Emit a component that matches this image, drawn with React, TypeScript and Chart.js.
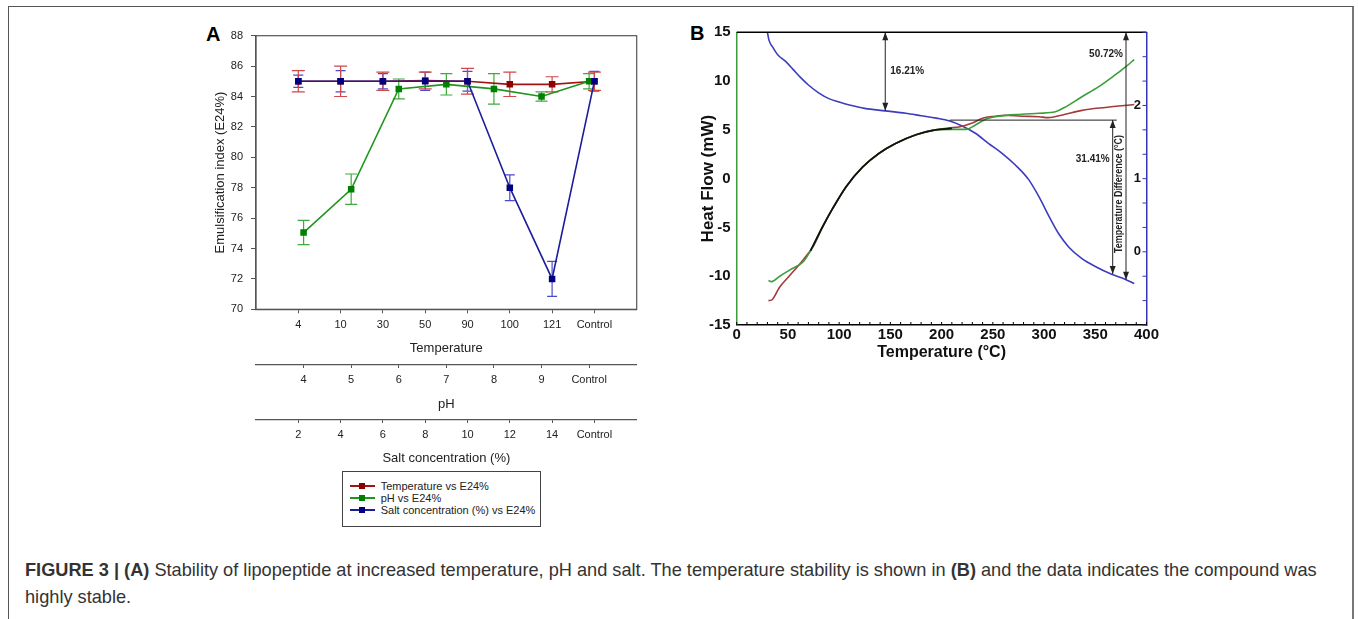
import React, { useEffect, useRef } from 'react';
import { Chart, registerables } from 'chart.js';

Chart.register(...registerables);
Chart.defaults.font.family = '"Liberation Sans", Arial, sans-serif';

// ---------- Panel A data ----------
const tempLabels = ['4', '10', '30', '50', '90', '100', '121', 'Control'];
const phLabels = ['4', '5', '6', '7', '8', '9', 'Control'];
const saltLabels = ['2', '4', '6', '8', '10', '12', '14', 'Control'];
const tempE24 = [85, 85, 85, 85.05, 85, 84.8, 84.8, 85];
const tempErr = [0.7, 1.0, 0.6, 0.55, 0.85, 0.8, 0.5, 0.6];
const phE24 = [75.05, 77.9, 84.5, 84.8, 84.5, 84.0, 85.0];
const phErr = [0.8, 1.0, 0.65, 0.7, 1.0, 0.3, 0.5];
const saltE24 = [85, 85, 85, 85, 85, 78, 72, 85];
const saltErr = [0.4, 0.7, 0.5, 0.6, 0.65, 0.85, 1.15, 0.65];
const yTicksA = { min: 70, max: 88, step: 2 };

// ---------- Panel B data ----------
const blueT = [30, 31.5, 35, 40, 48, 55, 62, 70, 80, 90, 100, 110, 125, 145, 165, 180, 195, 208, 220, 233, 246, 259, 272, 285, 295, 305, 314, 324, 337, 350, 366, 379, 388];
const blueHF = [15, 14.2, 13.5, 12.7, 12.0, 11.2, 10.4, 9.6, 8.8, 8.2, 7.85, 7.55, 7.2, 6.95, 6.7, 6.45, 6.2, 5.9, 5.4, 4.65, 3.6, 2.6, 1.4, -0.1, -1.85, -3.9, -5.6, -7.0, -8.2, -9.0, -9.8, -10.3, -10.75];
const redT = [31, 34, 42, 52, 65, 75, 84, 94, 107, 123, 139, 155, 175, 194, 207, 217, 230, 240, 252, 262, 278, 295, 304, 317, 337, 360, 388];
const redHF = [-12.5, -12.45, -11.1, -9.9, -8.3, -6.9, -4.9, -3.0, -0.8, 1.2, 2.6, 3.6, 4.5, 5.0, 5.2, 5.3, 5.7, 6.2, 6.4, 6.5, 6.4, 6.35, 6.25, 6.5, 7.0, 7.3, 7.6];
const greenT = [31, 34, 42, 52, 65, 72, 84, 94, 107, 123, 139, 155, 175, 194, 212, 224, 233, 243, 256, 278, 295, 311, 320, 337, 353, 369, 379, 388];
const greenHF = [-10.45, -10.55, -10.0, -9.35, -8.5, -7.4, -4.9, -3.0, -0.8, 1.2, 2.6, 3.6, 4.5, 5.0, 5.05, 5.05, 5.5, 6.1, 6.4, 6.6, 6.7, 6.85, 7.3, 8.4, 9.4, 10.6, 11.4, 12.2];
const blackT = [72, 84, 94, 107, 123, 139, 155, 175, 194, 210];
const blackHF = [-7.4, -4.9, -3.0, -0.8, 1.2, 2.6, 3.6, 4.5, 5.0, 5.15];
const arrowT = [145, 367, 380];
const arrowTop = [15, 6.0, 15];
const arrowBottom = [6.95, -9.77, -10.35];
const pctLabels = ['16.21%', '31.41%', '50.72%'];
const pctLabelY = [10.96, 1.99, 12.75];
const levelLineY = 6.0;
const levelLineFrom = 208;
const levelLineTo = 371;
const rightTitleT = 373;
const rightTitleY = -1.57;
const rightAxisLabels = [0, 1, 2];

const FONT = '"Liberation Sans", Arial, sans-serif';

const toXY = (xs: number[], ys: number[]) => xs.map((x, i) => ({ x, y: ys[i] }));

const errorBarPlugin = {
  id: 'errbars',
  beforeDatasetsDraw(chart: any) {
    const ctx = chart.ctx;
    ctx.save();
    chart.data.datasets.forEach((ds: any, di: number) => {
      const meta = chart.getDatasetMeta(di);
      const ys = chart.scales[ds.yAxisID];
      ds.data.forEach((p: any, j: number) => {
        const el = meta.data[j];
        if (!el) return;
        const e = ds.errorBars[j];
        const y1 = ys.getPixelForValue(p.y + e);
        const y2 = ys.getPixelForValue(p.y - e);
        const x = el.x;
        const w = ds.capHalf;
        ctx.strokeStyle = ds.errorColor;
        ctx.lineWidth = 1.2;
        ctx.beginPath();
        ctx.moveTo(x, y1); ctx.lineTo(x, y2);
        ctx.moveTo(x - w, y1); ctx.lineTo(x + w, y1);
        ctx.moveTo(x - w, y2); ctx.lineTo(x + w, y2);
        ctx.stroke();
      });
    });
    ctx.restore();
  },
};

const frameAPlugin = {
  id: 'frameA',
  afterDraw(chart: any) {
    const { ctx, chartArea: a } = chart;
    ctx.save();
    ctx.strokeStyle = '#555';
    ctx.lineWidth = 1.2;
    ctx.strokeRect(a.left, a.top, a.right - a.left, a.bottom - a.top);
    ctx.restore();
  },
};

function head(ctx: CanvasRenderingContext2D, x: number, y: number, dir: number) {
  ctx.beginPath();
  ctx.moveTo(x, y);
  ctx.lineTo(x - 3, y - dir * 8);
  ctx.lineTo(x + 3, y - dir * 8);
  ctx.closePath();
  ctx.fill();
}

const annotBPlugin = {
  id: 'annotB',
  afterDatasetsDraw(chart: any) {
    const { ctx, chartArea: a } = chart;
    const x = chart.scales.x;
    const y = chart.scales.y;
    ctx.save();
    ctx.strokeStyle = '#222';
    ctx.fillStyle = '#222';
    ctx.lineWidth = 1;
    arrowT.forEach((t, i) => {
      const px = x.getPixelForValue(t);
      const p1 = y.getPixelForValue(arrowTop[i]);
      const p2 = y.getPixelForValue(arrowBottom[i]);
      ctx.beginPath();
      ctx.moveTo(px, p1); ctx.lineTo(px, p2);
      ctx.stroke();
      head(ctx, px, p1, -1);
      head(ctx, px, p2, 1);
    });
    const ly = y.getPixelForValue(levelLineY);
    ctx.beginPath();
    ctx.moveTo(x.getPixelForValue(levelLineFrom), ly);
    ctx.lineTo(x.getPixelForValue(levelLineTo), ly);
    ctx.stroke();
    ctx.font = 'bold 10px ' + FONT;
    ctx.textBaseline = 'middle';
    pctLabels.forEach((lab, i) => {
      const px = x.getPixelForValue(arrowT[i]);
      const py = y.getPixelForValue(pctLabelY[i]);
      if (i === 0) {
        ctx.textAlign = 'left';
        ctx.fillText(lab, px + 5, py);
      } else {
        ctx.textAlign = 'right';
        ctx.fillText(lab, px - 3, py);
      }
    });
    // right axis title
    ctx.save();
    ctx.translate(x.getPixelForValue(rightTitleT), y.getPixelForValue(rightTitleY));
    ctx.rotate(-Math.PI / 2);
    ctx.textAlign = 'center';
    ctx.font = 'bold 10px ' + FONT;
    ctx.fillText('Temperature Difference (°C)', 0, 0, 118);
    ctx.restore();
    // top border
    ctx.strokeStyle = '#000';
    ctx.lineWidth = 1.5;
    ctx.beginPath();
    ctx.moveTo(a.left, a.top);
    ctx.lineTo(a.right, a.top);
    ctx.stroke();
    ctx.restore();
  },
  afterDraw(chart: any) {
    const { ctx, chartArea: a } = chart;
    const x = chart.scales.x;
    const y2 = chart.scales.y2;
    ctx.save();
    ctx.lineWidth = 1;
    ctx.strokeStyle = '#000';
    ctx.beginPath();
    for (let t = 0; t <= 400; t += 10) {
      const px = x.getPixelForValue(t);
      ctx.moveTo(px, a.bottom);
      ctx.lineTo(px, a.bottom - 3);
    }
    ctx.stroke();
    ctx.strokeStyle = '#3535b5';
    ctx.beginPath();
    for (let k = 0; k <= 12; k++) {
      const py = y2.getPixelForValue(-1 + k / 3);
      ctx.moveTo(a.right - 4, py);
      ctx.lineTo(a.right, py);
    }
    ctx.stroke();
    // right axis tick labels, drawn inside the plot
    ctx.fillStyle = '#111';
    ctx.font = 'bold 13px ' + FONT;
    ctx.textAlign = 'right';
    ctx.textBaseline = 'middle';
    rightAxisLabels.forEach((v) => {
      ctx.fillText(String(v), a.right - 5.5, y2.getPixelForValue(v));
    });
    ctx.restore();
  },
};

export default function App() {
  const refA = useRef<HTMLCanvasElement>(null);
  const refB = useRef<HTMLCanvasElement>(null);

  useEffect(() => {
    const lblFont = { size: 11 };
    const catAxis = (labels: string[], weight: number, max: number, title: string, tickLen: number, tickPad: number, titlePad: number, height: number) => ({
      type: 'linear',
      position: 'bottom',
      weight,
      min: 0,
      max,
      afterBuildTicks: (s: any) => { s.ticks = labels.map((_, i) => ({ value: i + 1 })); },
      afterFit: (s: any) => { s.height = height; },
      ticks: {
        callback: (v: any) => labels[Math.round(v) - 1] ?? '',
        autoSkip: false,
        maxRotation: 0,
        minRotation: 0,
        padding: tickPad,
        font: lblFont,
        color: '#222',
      },
      grid: { display: true, drawOnChartArea: false, drawTicks: true, tickLength: tickLen, color: '#555' },
      border: { display: true, color: '#555', width: 1.2 },
      title: { display: true, text: title, font: { size: 13 }, color: '#222', padding: { top: titlePad, bottom: titlePad } },
    });

    const chartA = new Chart(refA.current as HTMLCanvasElement, {
      type: 'line',
      data: {
        datasets: [
          {
            label: 'Salt concentration (%) vs E24%',
            data: toXY(saltLabels.map((_, i) => i + 1), saltE24),
            xAxisID: 'xsalt', yAxisID: 'y',
            borderColor: '#1c1c9c', backgroundColor: '#000080',
            pointBackgroundColor: '#000080', pointBorderWidth: 0,
            pointStyle: 'rect', pointRadius: 4.6, borderWidth: 1.6, order: 0,
            errorBars: saltErr, errorColor: '#4a4ad0', capHalf: 5,
          } as any,
          {
            label: 'pH vs E24%',
            data: toXY(phLabels.map((_, i) => i + 1), phE24),
            xAxisID: 'xph', yAxisID: 'y',
            borderColor: '#1e961e', backgroundColor: '#008000',
            pointBackgroundColor: '#008000', pointBorderWidth: 0,
            pointStyle: 'rect', pointRadius: 4.6, borderWidth: 1.6, order: 1,
            errorBars: phErr, errorColor: '#3caa3c', capHalf: 6,
          } as any,
          {
            label: 'Temperature vs E24%',
            data: toXY(tempLabels.map((_, i) => i + 1), tempE24),
            xAxisID: 'x', yAxisID: 'y',
            borderColor: '#a01414', backgroundColor: '#8b0000',
            pointBackgroundColor: '#8b0000', pointBorderWidth: 0,
            pointStyle: 'rect', pointRadius: 4.6, borderWidth: 1.6, order: 2,
            errorBars: tempErr, errorColor: '#d04848', capHalf: 6.5,
          } as any,
        ],
      },
      options: {
        responsive: false,
        animation: false,
        devicePixelRatio: 1,
        layout: { padding: { left: 50, top: 20.7, right: 23.3, bottom: 0 } },
        plugins: { legend: { display: false }, tooltip: { enabled: false } },
        events: [],
        scales: {
          x: catAxis(tempLabels, 0, 9, 'Temperature', 4, 5, 9.2, 55.7),
          xph: catAxis(phLabels, 1, 8, 'pH', 3, 5.4, 8.2, 55),
          xsalt: catAxis(saltLabels, 2, 9, 'Salt concentration (%)', 3, 5.4, 4.2, 50),
          y: {
            type: 'linear',
            position: 'left',
            min: yTicksA.min,
            max: yTicksA.max,
            afterFit: (s: any) => { s.width = 56; },
            ticks: { stepSize: yTicksA.step, font: lblFont, color: '#222', padding: 8 },
            grid: { display: true, drawOnChartArea: false, drawTicks: true, tickLength: 5, color: '#555' },
            border: { display: true, color: '#555', width: 1.2 },
            title: { display: true, text: 'Emulsification index (E24%)', font: { size: 13 }, color: '#222', padding: { top: 12.2, bottom: 12.2 } },
          },
        } as any,
      },
      plugins: [errorBarPlugin, frameAPlugin],
    } as any);

    const lineDs = (label: string, xs: number[], ys: number[], color: string, order: number, width = 1.6) => ({
      label,
      data: toXY(xs, ys),
      borderColor: color,
      backgroundColor: color,
      borderWidth: width,
      pointRadius: 0,
      cubicInterpolationMode: 'monotone',
      fill: false,
      order,
      xAxisID: 'x',
      yAxisID: 'y',
    });

    const boldTick = (size: number) => ({ size, weight: 'bold' });

    const chartB = new Chart(refB.current as HTMLCanvasElement, {
      type: 'line',
      data: {
        datasets: [
          lineDs('TGA', blueT, blueHF, '#3c3cc0', 3),
          lineDs('DTA 1', redT, redHF, '#a43a3a', 2),
          lineDs('DTA 2', greenT, greenHF, '#3a9e3a', 1),
          lineDs('Fit', blackT, blackHF, '#111', 0, 1.8),
        ] as any,
      },
      options: {
        responsive: false,
        animation: false,
        devicePixelRatio: 1,
        layout: { padding: { left: 0, top: 20.3, right: 0, bottom: 0 } },
        plugins: { legend: { display: false }, tooltip: { enabled: false } },
        events: [],
        scales: {
          x: {
            type: 'linear', position: 'bottom', min: 0, max: 400,
            afterFit: (s: any) => { s.height = 47; },
            ticks: { stepSize: 50, font: boldTick(15), color: '#111', padding: 1, maxRotation: 0, autoSkip: false },
            grid: { display: true, drawOnChartArea: false, drawTicks: false },
            border: { display: true, color: '#000', width: 1.5 },
            title: { display: true, text: 'Temperature (°C)', font: boldTick(16), color: '#111', padding: { top: 9.4, bottom: 9.4 } },
          },
          y: {
            type: 'linear', position: 'left', min: -15, max: 15,
            afterFit: (s: any) => { s.width = 46.7; },
            ticks: { stepSize: 5, font: boldTick(15), color: '#111', padding: 6 },
            grid: { display: true, drawOnChartArea: false, drawTicks: false },
            border: { display: true, color: '#3a9e3a', width: 1.5 },
            title: { display: true, text: 'Heat Flow (mW)', font: boldTick(17), color: '#111', padding: { top: 8, bottom: 8 } },
          },
          y2: {
            type: 'linear', position: 'right', min: -1, max: 3,
            afterFit: (s: any) => { s.width = 23.5; },
            ticks: { display: false },
            grid: { display: true, drawOnChartArea: false, drawTicks: false },
            border: { display: true, color: '#3535b5', width: 1.5 },
          },
        } as any,
      },
      plugins: [annotBPlugin],
    } as any);

    return () => {
      chartA.destroy();
      chartB.destroy();
    };
  }, []);

  const legendItems = [
    { label: 'Temperature vs E24%', line: '#a01414', mark: '#8b0000' },
    { label: 'pH vs E24%', line: '#1e961e', mark: '#008000' },
    { label: 'Salt concentration (%) vs E24%', line: '#1c1c9c', mark: '#000080' },
  ];

  return (
    <div style={{ position: 'absolute', left: 0, top: 0, width: 1358, height: 619, overflow: 'hidden', background: '#fff', fontFamily: FONT }}>
      <div style={{ position: 'absolute', left: 8, top: 6, width: 1346, height: 613, borderTop: '1.5px solid #555', borderLeft: '1.5px solid #555', borderRight: '2px solid #777', boxSizing: 'border-box' }} />
      <div style={{ position: 'absolute', left: 206, top: 24, fontSize: 20, lineHeight: '20px', fontWeight: 'bold', color: '#000' }}>A</div>
      <div style={{ position: 'absolute', left: 690, top: 23, fontSize: 20, lineHeight: '20px', fontWeight: 'bold', color: '#000' }}>B</div>
      <canvas ref={refA} width={510} height={455} style={{ position: 'absolute', left: 150, top: 15, width: 510, height: 455 }} />
      <canvas ref={refB} width={480} height={360} style={{ position: 'absolute', left: 690, top: 12, width: 480, height: 360 }} />
      <div style={{ position: 'absolute', left: 341.7, top: 471, width: 199, height: 56, border: '1px solid #444', boxSizing: 'border-box', background: '#fff' }}>
        {legendItems.map((it, i) => (
          <div key={i} style={{ position: 'absolute', left: 0, top: 8 + i * 12, height: 12, width: 197 }}>
            <div style={{ position: 'absolute', left: 7, top: 5, width: 25, height: 2, background: it.line }} />
            <div style={{ position: 'absolute', left: 16.5, top: 3, width: 6, height: 6, background: it.mark }} />
            <div style={{ position: 'absolute', left: 38, top: 0, fontSize: 11, lineHeight: '12px', color: '#222', whiteSpace: 'nowrap' }}>{it.label}</div>
          </div>
        ))}
      </div>
      <div style={{ position: 'absolute', left: 25, top: 556.5, fontSize: 18.2, lineHeight: '27px', color: '#333', whiteSpace: 'nowrap' }}>
        <b>FIGURE 3 | (A)</b> Stability of lipopeptide at increased temperature, pH and salt. The temperature stability is shown in <b>(B)</b> and the data indicates the compound was
        <br />
        highly stable.
      </div>
    </div>
  );
}
